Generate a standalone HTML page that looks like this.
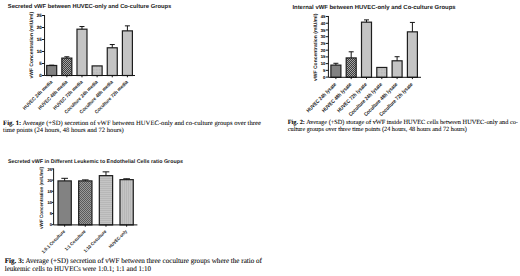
<!DOCTYPE html><html><head><meta charset="utf-8"><style>html,body{margin:0;padding:0;background:#fff;width:520px;height:276px;overflow:hidden}svg{display:block}</style></head><body>
<svg width="520" height="276" viewBox="0 0 520 276" text-rendering="geometricPrecision">
<defs>
<pattern id="chk" width="2" height="2" patternUnits="userSpaceOnUse"><rect width="2" height="2" fill="#3c3c3c"/><rect x="0.1" y="0.1" width="0.85" height="0.85" fill="#d0d0d0"/><rect x="1.1" y="1.1" width="0.85" height="0.85" fill="#d0d0d0"/></pattern>
<pattern id="chk3" width="2" height="2" patternUnits="userSpaceOnUse"><rect width="2" height="2" fill="#9a9a9a"/><rect width="1" height="1" fill="#5a5a5a"/><rect x="1" y="1" width="1" height="1" fill="#5a5a5a"/></pattern>
<pattern id="dots" width="1.5" height="1.5" patternUnits="userSpaceOnUse"><rect width="1.5" height="1.5" fill="#c4c4c4"/><rect width="0.6" height="0.6" fill="#aaa"/></pattern>
<pattern id="hs" width="2" height="2" patternUnits="userSpaceOnUse"><rect width="2" height="2" fill="#c4c4c4"/><rect width="2" height="0.5" fill="#aaa"/></pattern>
<pattern id="vs" width="2" height="2" patternUnits="userSpaceOnUse"><rect width="2" height="2" fill="#c4c4c4"/><rect width="0.5" height="2" fill="#aaa"/></pattern>
</defs>
<g font-family='"Liberation Sans", sans-serif' font-weight="bold" fill="#1a1a1a">
<rect x="46.7" y="65.49" width="10" height="10.01" fill="#828282" stroke="#1e1e1e" stroke-width="1.2"/>
<path d="M51.7 65.49V65.18M49.2 65.18H54.2" stroke="#151515" stroke-width="1.0" fill="none"/>
<path d="M51.7 75.5v1.8" stroke="#151515" stroke-width="1.0"/>
<rect x="61.84" y="58.1" width="10" height="17.4" fill="url(#chk)" stroke="#1e1e1e" stroke-width="1.2"/>
<path d="M66.84 58.1V56.78M64.34 56.78H69.34" stroke="#151515" stroke-width="1.0" fill="none"/>
<path d="M66.84 75.5v1.8" stroke="#151515" stroke-width="1.0"/>
<rect x="76.98" y="29.18" width="10" height="46.32" fill="#c4c4c4" stroke="#1e1e1e" stroke-width="1.2"/>
<path d="M81.98 29.18V26.54M79.48 26.54H84.48" stroke="#151515" stroke-width="1.0" fill="none"/>
<path d="M81.98 75.5v1.8" stroke="#151515" stroke-width="1.0"/>
<rect x="92.12" y="65.9" width="10" height="9.6" fill="url(#dots)" stroke="#1e1e1e" stroke-width="1.2"/>
<path d="M97.12 75.5v1.8" stroke="#151515" stroke-width="1.0"/>
<rect x="107.26" y="47.78" width="10" height="27.72" fill="#c4c4c4" stroke="#1e1e1e" stroke-width="1.2"/>
<path d="M112.26 47.78V44.54M109.76 44.54H114.76" stroke="#151515" stroke-width="1.0" fill="none"/>
<path d="M112.26 75.5v1.8" stroke="#151515" stroke-width="1.0"/>
<rect x="122.4" y="30.86" width="10" height="44.64" fill="#c4c4c4" stroke="#1e1e1e" stroke-width="1.2"/>
<path d="M127.4 30.86V25.85M124.9 25.85H129.9" stroke="#151515" stroke-width="1.0" fill="none"/>
<path d="M127.4 75.5v1.8" stroke="#151515" stroke-width="1.0"/>
<path d="M44.55 15V75.5H135" stroke="#151515" stroke-width="1.0" fill="none"/>
<path d="M41.95 75.5H44.55" stroke="#151515" stroke-width="1.0"/>
<text x="41.65" y="77.15" font-size="4.5" text-anchor="end" stroke="#1a1a1a" stroke-width="0.12">0</text>
<path d="M41.95 63.5H44.55" stroke="#151515" stroke-width="1.0"/>
<text x="41.65" y="65.15" font-size="4.5" text-anchor="end" stroke="#1a1a1a" stroke-width="0.12">5</text>
<path d="M41.95 51.5H44.55" stroke="#151515" stroke-width="1.0"/>
<text x="41.65" y="53.15" font-size="4.5" text-anchor="end" stroke="#1a1a1a" stroke-width="0.12">10</text>
<path d="M41.95 39.5H44.55" stroke="#151515" stroke-width="1.0"/>
<text x="41.65" y="41.15" font-size="4.5" text-anchor="end" stroke="#1a1a1a" stroke-width="0.12">15</text>
<path d="M41.95 27.5H44.55" stroke="#151515" stroke-width="1.0"/>
<text x="41.65" y="29.15" font-size="4.5" text-anchor="end" stroke="#1a1a1a" stroke-width="0.12">20</text>
<path d="M41.95 15.5H44.55" stroke="#151515" stroke-width="1.0"/>
<text x="41.65" y="17.15" font-size="4.5" text-anchor="end" stroke="#1a1a1a" stroke-width="0.12">25</text>
<text transform="translate(33.4,45.2) rotate(-90)" font-size="5.0" text-anchor="middle" textLength="66.7" lengthAdjust="spacingAndGlyphs">vWF Concentration (mIU/ml)</text>
<text transform="translate(52.7,82.3) rotate(-45)" font-size="5.0" text-anchor="end" textLength="39.44" lengthAdjust="spacingAndGlyphs">HUVEC 24h media</text>
<text transform="translate(67.84,82.3) rotate(-45)" font-size="5.0" text-anchor="end" textLength="39.44" lengthAdjust="spacingAndGlyphs">HUVEC 48h media</text>
<text transform="translate(82.98,82.3) rotate(-45)" font-size="5.0" text-anchor="end" textLength="39.44" lengthAdjust="spacingAndGlyphs">HUVEC 72h media</text>
<text transform="translate(98.12,82.3) rotate(-45)" font-size="5.0" text-anchor="end" textLength="44.75" lengthAdjust="spacingAndGlyphs">Coculture 24h media</text>
<text transform="translate(113.26,82.3) rotate(-45)" font-size="5.0" text-anchor="end" textLength="44.75" lengthAdjust="spacingAndGlyphs">Coculture 48h media</text>
<text transform="translate(128.4,82.3) rotate(-45)" font-size="5.0" text-anchor="end" textLength="44.75" lengthAdjust="spacingAndGlyphs">Coculture 72h media</text>
<text x="7.8" y="8.1" font-size="5.8" textLength="163.5" lengthAdjust="spacingAndGlyphs">Secreted vWF between HUVEC-only and Co-culture Groups</text>
<rect x="330.9" y="65.11" width="10" height="12.19" fill="#828282" stroke="#1e1e1e" stroke-width="1.2"/>
<path d="M335.9 65.11V63.29M333.4 63.29H338.4" stroke="#151515" stroke-width="1.0" fill="none"/>
<path d="M335.9 77.3v1.8" stroke="#151515" stroke-width="1.0"/>
<rect x="346.2" y="57.92" width="10" height="19.38" fill="url(#chk)" stroke="#1e1e1e" stroke-width="1.2"/>
<path d="M351.2 57.92V51.8M348.7 51.8H353.7" stroke="#151515" stroke-width="1.0" fill="none"/>
<path d="M351.2 77.3v1.8" stroke="#151515" stroke-width="1.0"/>
<rect x="361.5" y="22.16" width="10" height="55.14" fill="#c4c4c4" stroke="#1e1e1e" stroke-width="1.2"/>
<path d="M366.5 22.16V19.88M364 19.88H369" stroke="#151515" stroke-width="1.0" fill="none"/>
<path d="M366.5 77.3v1.8" stroke="#151515" stroke-width="1.0"/>
<rect x="376.8" y="67.46" width="10" height="9.84" fill="url(#dots)" stroke="#1e1e1e" stroke-width="1.2"/>
<path d="M381.8 77.3v1.8" stroke="#151515" stroke-width="1.0"/>
<rect x="392.1" y="60.8" width="10" height="16.5" fill="#c4c4c4" stroke="#1e1e1e" stroke-width="1.2"/>
<path d="M397.1 60.8V56.71M394.6 56.71H399.6" stroke="#151515" stroke-width="1.0" fill="none"/>
<path d="M397.1 77.3v1.8" stroke="#151515" stroke-width="1.0"/>
<rect x="407.4" y="31.84" width="10" height="45.46" fill="#c4c4c4" stroke="#1e1e1e" stroke-width="1.2"/>
<path d="M412.4 31.84V22.43M409.9 22.43H414.9" stroke="#151515" stroke-width="1.0" fill="none"/>
<path d="M412.4 77.3v1.8" stroke="#151515" stroke-width="1.0"/>
<path d="M328.4 15.98V77.3H421" stroke="#151515" stroke-width="1.0" fill="none"/>
<path d="M325.8 77.1H328.4" stroke="#151515" stroke-width="1.0"/>
<text x="325.3" y="78.65" font-size="4.2" text-anchor="end" stroke="#1a1a1a" stroke-width="0.12">0</text>
<path d="M325.8 70.36H328.4" stroke="#151515" stroke-width="1.0"/>
<text x="325.3" y="71.91" font-size="4.2" text-anchor="end" stroke="#1a1a1a" stroke-width="0.12">5</text>
<path d="M325.8 63.63H328.4" stroke="#151515" stroke-width="1.0"/>
<text x="325.3" y="65.18" font-size="4.2" text-anchor="end" stroke="#1a1a1a" stroke-width="0.12">10</text>
<path d="M325.8 56.89H328.4" stroke="#151515" stroke-width="1.0"/>
<text x="325.3" y="58.44" font-size="4.2" text-anchor="end" stroke="#1a1a1a" stroke-width="0.12">15</text>
<path d="M325.8 50.16H328.4" stroke="#151515" stroke-width="1.0"/>
<text x="325.3" y="51.71" font-size="4.2" text-anchor="end" stroke="#1a1a1a" stroke-width="0.12">20</text>
<path d="M325.8 43.42H328.4" stroke="#151515" stroke-width="1.0"/>
<text x="325.3" y="44.97" font-size="4.2" text-anchor="end" stroke="#1a1a1a" stroke-width="0.12">25</text>
<path d="M325.8 36.69H328.4" stroke="#151515" stroke-width="1.0"/>
<text x="325.3" y="38.24" font-size="4.2" text-anchor="end" stroke="#1a1a1a" stroke-width="0.12">30</text>
<path d="M325.8 29.95H328.4" stroke="#151515" stroke-width="1.0"/>
<text x="325.3" y="31.5" font-size="4.2" text-anchor="end" stroke="#1a1a1a" stroke-width="0.12">35</text>
<path d="M325.8 23.22H328.4" stroke="#151515" stroke-width="1.0"/>
<text x="325.3" y="24.77" font-size="4.2" text-anchor="end" stroke="#1a1a1a" stroke-width="0.12">40</text>
<path d="M325.8 16.48H328.4" stroke="#151515" stroke-width="1.0"/>
<text x="325.3" y="18.03" font-size="4.2" text-anchor="end" stroke="#1a1a1a" stroke-width="0.12">45</text>
<text transform="translate(316.9,47.35) rotate(-90)" font-size="5.0" text-anchor="middle" textLength="67.3" lengthAdjust="spacingAndGlyphs">vWF Concentration (mIU/ml)</text>
<text transform="translate(336.6,84.8) rotate(-45)" font-size="5.3" text-anchor="end" textLength="39.63" lengthAdjust="spacingAndGlyphs">HUVEC 24h lysate</text>
<text transform="translate(351.9,84.8) rotate(-45)" font-size="5.3" text-anchor="end" textLength="39.63" lengthAdjust="spacingAndGlyphs">HUVEC 48h lysate</text>
<text transform="translate(367.2,84.8) rotate(-45)" font-size="5.3" text-anchor="end" textLength="39.63" lengthAdjust="spacingAndGlyphs">HUVEC 72h lysate</text>
<text transform="translate(382.5,84.8) rotate(-45)" font-size="5.3" text-anchor="end" textLength="44.99" lengthAdjust="spacingAndGlyphs">Coculture 24h lysate</text>
<text transform="translate(397.8,84.8) rotate(-45)" font-size="5.3" text-anchor="end" textLength="44.99" lengthAdjust="spacingAndGlyphs">Coculture 48h lysate</text>
<text transform="translate(413.1,84.8) rotate(-45)" font-size="5.3" text-anchor="end" textLength="44.99" lengthAdjust="spacingAndGlyphs">Coculture 72h lysate</text>
<text x="292.4" y="9.25" font-size="5.9" textLength="163.2" lengthAdjust="spacingAndGlyphs">Internal vWF between HUVEC-only and Co-culture Groups</text>
<rect x="58" y="180.9" width="13.3" height="44" fill="#828282" stroke="#1e1e1e" stroke-width="1.2"/>
<path d="M64.65 180.9V178.32M61.33 178.32H67.98" stroke="#151515" stroke-width="1.0" fill="none"/>
<path d="M64.65 224.9v1.8" stroke="#151515" stroke-width="1.0"/>
<rect x="78.66" y="180.9" width="13.3" height="44" fill="url(#chk3)" stroke="#1e1e1e" stroke-width="1.2"/>
<path d="M85.31 180.9V179.88M81.98 179.88H88.64" stroke="#151515" stroke-width="1.0" fill="none"/>
<path d="M85.31 224.9v1.8" stroke="#151515" stroke-width="1.0"/>
<rect x="99.32" y="175.64" width="13.3" height="49.26" fill="url(#hs)" stroke="#1e1e1e" stroke-width="1.2"/>
<path d="M105.97 175.64V171.85M102.64 171.85H109.3" stroke="#151515" stroke-width="1.0" fill="none"/>
<path d="M105.97 224.9v1.8" stroke="#151515" stroke-width="1.0"/>
<rect x="119.98" y="179.65" width="13.3" height="45.25" fill="url(#vs)" stroke="#1e1e1e" stroke-width="1.2"/>
<path d="M126.63 179.65V178.76M123.31 178.76H129.96" stroke="#151515" stroke-width="1.0" fill="none"/>
<path d="M126.63 224.9v1.8" stroke="#151515" stroke-width="1.0"/>
<path d="M53.6 168.45V224.9H137.4" stroke="#151515" stroke-width="1.0" fill="none"/>
<path d="M51.8 224.7H53.6" stroke="#151515" stroke-width="1.0"/>
<text x="51.9" y="226.25" font-size="4.0" text-anchor="end" stroke="#1a1a1a" stroke-width="0.12">0</text>
<path d="M51.8 213.55H53.6" stroke="#151515" stroke-width="1.0"/>
<text x="51.9" y="215.1" font-size="4.0" text-anchor="end" stroke="#1a1a1a" stroke-width="0.12">5</text>
<path d="M51.8 202.4H53.6" stroke="#151515" stroke-width="1.0"/>
<text x="51.9" y="203.95" font-size="4.0" text-anchor="end" stroke="#1a1a1a" stroke-width="0.12">10</text>
<path d="M51.8 191.25H53.6" stroke="#151515" stroke-width="1.0"/>
<text x="51.9" y="192.8" font-size="4.0" text-anchor="end" stroke="#1a1a1a" stroke-width="0.12">15</text>
<path d="M51.8 180.1H53.6" stroke="#151515" stroke-width="1.0"/>
<text x="51.9" y="181.65" font-size="4.0" text-anchor="end" stroke="#1a1a1a" stroke-width="0.12">20</text>
<path d="M51.8 168.95H53.6" stroke="#151515" stroke-width="1.0"/>
<text x="51.9" y="170.5" font-size="4.0" text-anchor="end" stroke="#1a1a1a" stroke-width="0.12">25</text>
<text transform="translate(43.3,198) rotate(-90)" font-size="4.8" text-anchor="middle" textLength="62.0" lengthAdjust="spacingAndGlyphs">vWF Concentration (mIU/ml)</text>
<text transform="translate(65.35,231.7) rotate(-45)" font-size="4.6" text-anchor="end" textLength="31.06" lengthAdjust="spacingAndGlyphs">1:0.1 Coculture</text>
<text transform="translate(86.01,231.7) rotate(-45)" font-size="4.6" text-anchor="end" textLength="27.48" lengthAdjust="spacingAndGlyphs">1:1 Coculture</text>
<text transform="translate(106.67,231.7) rotate(-45)" font-size="4.6" text-anchor="end" textLength="29.87" lengthAdjust="spacingAndGlyphs">1:10 Coculture</text>
<text transform="translate(127.33,231.7) rotate(-45)" font-size="4.6" text-anchor="end" textLength="23.8" lengthAdjust="spacingAndGlyphs">HUVEC-only</text>
<text x="7.9" y="162.7" font-size="5.3" textLength="175" lengthAdjust="spacingAndGlyphs">Secreted vWF in Different Leukemic to Endothelial Cells ratio Groups</text>
</g>
<g font-family='"Liberation Serif", serif' fill="#000">
<g stroke="#000" stroke-width="0.05">
<text x="3.1" y="124.5" font-size="6.62" textLength="257.8" lengthAdjust="spacingAndGlyphs"><tspan font-weight="bold">Fig. 1:</tspan> Average (+SD) secretion of vWF between HUVEC-only and co-culture groups over three</text>
<text x="3.1" y="132.05" font-size="6.62" textLength="120.6" lengthAdjust="spacingAndGlyphs">time points (24 hours, 48 hours and 72 hours)</text>
</g>
<g stroke="#000" stroke-width="0.06">
<text x="287.75" y="123.8" font-size="6.3" textLength="230.2" lengthAdjust="spacingAndGlyphs"><tspan font-weight="bold">Fig. 2:</tspan> Average (+SD) storage of vWF inside HUVEC cells between HUVEC-only and co-</text>
<text x="287.75" y="130.9" font-size="6.3" textLength="179.1" lengthAdjust="spacingAndGlyphs">culture groups over three time points (24 hours, 48 hours and 72 hours)</text>
</g>
<g stroke="#000" stroke-width="0.07">
<text x="4.75" y="262.85" font-size="7.3" textLength="257.2" lengthAdjust="spacingAndGlyphs"><tspan font-weight="bold">Fig. 3:</tspan> Average (+SD) secretion of vWF between three coculture groups where the ratio of</text>
<text x="4.75" y="270.9" font-size="7.3" textLength="146.2" lengthAdjust="spacingAndGlyphs">leukemic cells to HUVECs were 1:0.1; 1:1 and 1:10</text>
</g>
</g>
</svg></body></html>
